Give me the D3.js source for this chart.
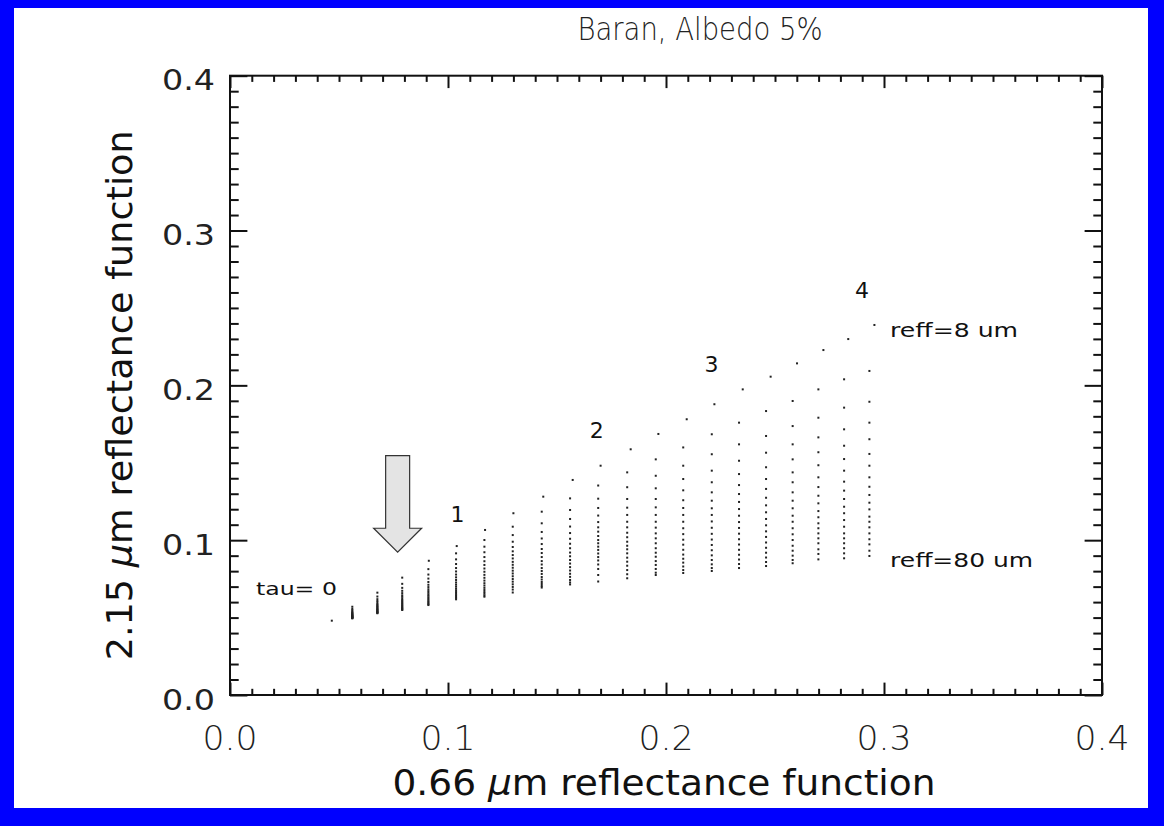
<!DOCTYPE html>
<html><head><meta charset="utf-8">
<script src="https://cdn.jsdelivr.net/npm/d3@7"></script>
<style>html,body{margin:0;padding:0;background:#0000ff;} svg{display:block}</style>
</head><body>
<svg id="c" width="1164" height="826"></svg>
<script>
// ---------- data ----------
const chartTitle = "Baran, Albedo 5%";
const xTickValues = [0.0, 0.1, 0.2, 0.3, 0.4];
const yTickValues = [0.0, 0.1, 0.2, 0.3, 0.4];
const xTickLabels = ["0.0", "0.1", "0.2", "0.3", "0.4"];
const yTickLabels = ["0.0", "0.1", "0.2", "0.3", "0.4"];
// 0.66 um reflectance of each tau column (bulk, and the reff=8 um point)
const tauX    = [0.0467,0.0561,0.0676,0.0790,0.0910,0.1037,0.1167,0.1297,0.1430,0.1560,0.1689,0.1822,0.1953,0.2079,0.2210,0.2335,0.2459,0.2581,0.2699,0.2817,0.2933];
const tauXTop = [0.0467,0.0561,0.0676,0.0790,0.0912,0.1040,0.1170,0.1300,0.1437,0.1572,0.1700,0.1838,0.1965,0.2095,0.2222,0.2352,0.2480,0.2601,0.2722,0.2836,0.2956];
// 2.15 um reflectance, reff from 8 um (first) to 80 um (last)
const col00 = [0.0480];
const col01 = [0.0570,0.0556,0.0547,0.0540,0.0534,0.0530,0.0526,0.0522,0.0519,0.0516,0.0513,0.0511,0.0508,0.0506,0.0504,0.0502,0.0500,0.0498,0.0497,0.0495];
const col02 = [0.0661,0.0636,0.0619,0.0607,0.0597,0.0588,0.0581,0.0575,0.0569,0.0565,0.0559,0.0555,0.0551,0.0547,0.0543,0.0539,0.0536,0.0533,0.0530,0.0528];
const col03 = [0.0758,0.0718,0.0692,0.0673,0.0658,0.0644,0.0634,0.0623,0.0614,0.0606,0.0599,0.0592,0.0586,0.0579,0.0574,0.0567,0.0562,0.0557,0.0552,0.0549];
const col04 = [0.0867,0.0813,0.0778,0.0752,0.0730,0.0712,0.0697,0.0683,0.0671,0.0660,0.0649,0.0641,0.0631,0.0623,0.0615,0.0606,0.0599,0.0592,0.0586,0.0581];
const col05 = [0.0962,0.0915,0.0876,0.0846,0.0820,0.0798,0.0778,0.0760,0.0743,0.0727,0.0713,0.0700,0.0687,0.0676,0.0665,0.0654,0.0645,0.0636,0.0627,0.0618];
const col06 = [0.1066,0.1001,0.0958,0.0922,0.0891,0.0864,0.0840,0.0817,0.0796,0.0776,0.0757,0.0739,0.0722,0.0707,0.0692,0.0678,0.0665,0.0654,0.0643,0.0635];
const col07 = [0.1174,0.1087,0.1033,0.0990,0.0956,0.0928,0.0904,0.0882,0.0860,0.0841,0.0822,0.0803,0.0785,0.0767,0.0749,0.0732,0.0715,0.0698,0.0681,0.0662];
const col08 = [0.1281,0.1184,0.1109,0.1053,0.1011,0.0975,0.0943,0.0917,0.0891,0.0865,0.0843,0.0820,0.0801,0.0782,0.0762,0.0746,0.0730,0.0717,0.0704,0.0694];
const col09 = [0.1389,0.1270,0.1195,0.1137,0.1088,0.1046,0.1009,0.0977,0.0948,0.0920,0.0896,0.0872,0.0849,0.0826,0.0804,0.0783,0.0763,0.0743,0.0727,0.0714];
const col10 = [0.1481,0.1353,0.1268,0.1208,0.1159,0.1117,0.1083,0.1055,0.1027,0.1001,0.0980,0.0958,0.0937,0.0914,0.0891,0.0869,0.0843,0.0814,0.0775,0.0733];
const col11 = [0.1587,0.1438,0.1342,0.1266,0.1210,0.1163,0.1119,0.1083,0.1048,0.1019,0.0990,0.0964,0.0941,0.0915,0.0887,0.0861,0.0835,0.0807,0.0780,0.0754];
const col12 = [0.1686,0.1522,0.1416,0.1335,0.1266,0.1212,0.1163,0.1119,0.1081,0.1044,0.1012,0.0980,0.0948,0.0919,0.0893,0.0865,0.0840,0.0814,0.0790,0.0775];
const col13 = [0.1781,0.1599,0.1481,0.1395,0.1322,0.1258,0.1208,0.1163,0.1119,0.1077,0.1039,0.1003,0.0971,0.0938,0.0907,0.0880,0.0855,0.0830,0.0807,0.0788];
const col14 = [0.1878,0.1684,0.1555,0.1449,0.1374,0.1309,0.1255,0.1206,0.1163,0.1121,0.1080,0.1041,0.1004,0.0969,0.0935,0.0902,0.0872,0.0844,0.0820,0.0801];
const col15 = [0.1974,0.1759,0.1619,0.1513,0.1427,0.1356,0.1298,0.1247,0.1201,0.1158,0.1117,0.1079,0.1042,0.1006,0.0972,0.0938,0.0906,0.0875,0.0846,0.0820];
const col16 = [0.2056,0.1834,0.1673,0.1565,0.1471,0.1395,0.1331,0.1274,0.1225,0.1180,0.1137,0.1096,0.1057,0.1021,0.0985,0.0951,0.0919,0.0888,0.0859,0.0833];
const col17 = [0.2142,0.1899,0.1737,0.1619,0.1522,0.1438,0.1374,0.1309,0.1255,0.1206,0.1158,0.1119,0.1077,0.1038,0.1001,0.0964,0.0932,0.0900,0.0872,0.0851];
const col18 = [0.2228,0.1974,0.1791,0.1664,0.1568,0.1484,0.1406,0.1343,0.1287,0.1238,0.1188,0.1148,0.1109,0.1077,0.1044,0.1012,0.0980,0.0941,0.0911,0.0876];
const col19 = [0.2299,0.2039,0.1856,0.1716,0.1610,0.1524,0.1449,0.1378,0.1320,0.1266,0.1216,0.1174,0.1130,0.1087,0.1044,0.1012,0.0980,0.0948,0.0915,0.0883];
const col20 = [0.2390,0.2093,0.1894,0.1759,0.1652,0.1557,0.1481,0.1406,0.1345,0.1292,0.1242,0.1199,0.1152,0.1119,0.1083,0.1044,0.1006,0.0973,0.0932,0.0898];
const columns = [col00,col01,col02,col03,col04,col05,col06,col07,col08,col09,col10,col11,col12,col13,col14,col15,col16,col17,col18,col19,col20];
const tauNumbers = ["1", "2", "3", "4"];
const tauNumberX = [0.1044, 0.1682, 0.2209, 0.2899];
const tauNumberY = [0.1119, 0.1660, 0.2088, 0.2564];
const xTitle = ["0.66 ", "\u03bc", "m reflectance function"];
const yTitle = ["2.15 ", "\u03bc", "m reflectance function"];

// ---------- layout ----------
const svg = d3.select("#c");
svg.append("rect").attr("x", 14).attr("y", 8).attr("width", 1134).attr("height", 800).attr("fill", "#fff");

const x = d3.scaleLinear().domain([0, 0.4]).range([230, 1102]);
const y = d3.scaleLinear().domain([0, 0.4]).range([695, 75.7]);
const ink = "#111";
const font = "DejaVu Sans, Liberation Sans, sans-serif";

const minorX = d3.range(0, 41).map(i => i / 100).filter(v => Math.round(v * 1000) % 100 !== 0);
const minorY = minorX;

function styleAxis(g) {
  g.select(".domain").remove();
  g.selectAll("line").attr("stroke", ink).attr("stroke-width", 2);
  g.selectAll("text").remove();
}
svg.append("g").attr("transform", `translate(0,${y(0)})`).call(d3.axisBottom(x).tickValues(xTickValues).tickSize(-12.4).tickSizeOuter(0)).call(styleAxis);
svg.append("g").attr("transform", `translate(0,${y(0)})`).call(d3.axisBottom(x).tickValues(minorX).tickSize(-6.2).tickSizeOuter(0)).call(styleAxis);
svg.append("g").attr("transform", `translate(0,${y(0.4)})`).call(d3.axisTop(x).tickValues(xTickValues).tickSize(-12.4).tickSizeOuter(0)).call(styleAxis);
svg.append("g").attr("transform", `translate(0,${y(0.4)})`).call(d3.axisTop(x).tickValues(minorX).tickSize(-6.2).tickSizeOuter(0)).call(styleAxis);
svg.append("g").attr("transform", `translate(${x(0)},0)`).call(d3.axisLeft(y).tickValues(yTickValues).tickSize(-17.4).tickSizeOuter(0)).call(styleAxis);
svg.append("g").attr("transform", `translate(${x(0)},0)`).call(d3.axisLeft(y).tickValues(minorY).tickSize(-8.7).tickSizeOuter(0)).call(styleAxis);
svg.append("g").attr("transform", `translate(${x(0.4)},0)`).call(d3.axisRight(y).tickValues(yTickValues).tickSize(-17.4).tickSizeOuter(0)).call(styleAxis);
svg.append("g").attr("transform", `translate(${x(0.4)},0)`).call(d3.axisRight(y).tickValues(minorY).tickSize(-8.7).tickSizeOuter(0)).call(styleAxis);

svg.append("rect").attr("x", x(0)).attr("y", y(0.4)).attr("width", x(0.4) - x(0)).attr("height", y(0) - y(0.4))
  .attr("fill", "none").attr("stroke", ink).attr("stroke-width", 2);

// tick labels
svg.append("g").selectAll("text").data(xTickValues).join("text")
  .attr("x", d => x(d)).attr("y", y(0) + 55).attr("text-anchor", "middle")
  .attr("font-family", font).attr("font-size", 33).attr("font-weight", 200).attr("fill", "#222")
  .attr("textLength", 55).attr("lengthAdjust", "spacingAndGlyphs")
  .text((d, i) => xTickLabels[i]);
svg.append("g").selectAll("text").data(yTickValues).join("text")
  .attr("x", 215).attr("y", d => y(d) + 14.5).attr("text-anchor", "end")
  .attr("font-family", font).attr("font-size", 29).attr("fill", "#222")
  .attr("textLength", 53).attr("lengthAdjust", "spacingAndGlyphs")
  .text((d, i) => yTickLabels[i]);

// titles
function richText(sel, parts) {
  parts.forEach((p, i) => sel.append("tspan").attr("font-style", i === 1 ? "italic" : "normal").text(p));
}
const xt = svg.append("text").attr("x", (x(0) + x(0.4)) / 2 - 2).attr("y", 795).attr("text-anchor", "middle")
  .attr("font-family", font).attr("font-size", 36).attr("fill", "#111")
  .attr("textLength", 543).attr("lengthAdjust", "spacingAndGlyphs");
richText(xt, xTitle);
const yt = svg.append("text").attr("transform", `translate(132,${(y(0) + y(0.4)) / 2 + 10}) rotate(-90)`).attr("text-anchor", "middle")
  .attr("font-family", font).attr("font-size", 36).attr("fill", "#111")
  .attr("textLength", 530).attr("lengthAdjust", "spacingAndGlyphs");
richText(yt, yTitle);
svg.append("text").attr("x", 700).attr("y", 40).attr("text-anchor", "middle")
  .attr("font-family", font).attr("font-size", 32).attr("font-weight", 200).attr("fill", "#222")
  .attr("textLength", 245).attr("lengthAdjust", "spacingAndGlyphs")
  .text(chartTitle);

// ---------- dots ----------
const pts = [];
columns.forEach((col, ci) => col.forEach((v, ri) => pts.push({ x: ri === 0 ? tauXTop[ci] : tauX[ci], y: v })));
svg.append("g").selectAll("rect").data(pts).join("rect")
  .attr("x", d => x(d.x) - 1).attr("y", d => y(d.y) - 1).attr("width", 2).attr("height", 2).attr("fill", "#222");

// ---------- annotations ----------
const ann = svg.append("g").attr("font-family", font).attr("fill", "#111");
ann.append("text").attr("x", x(0.0119)).attr("y", y(0.0646)).attr("font-size", 18).attr("textLength", 81).attr("lengthAdjust", "spacingAndGlyphs").text("tau= 0");
ann.selectAll(".tn").data(tauNumbers).join("text").attr("class", "tn")
  .attr("x", (d, i) => x(tauNumberX[i])).attr("y", (d, i) => y(tauNumberY[i])).attr("text-anchor", "middle")
  .attr("font-size", 22).text(d => d);
ann.append("text").attr("x", x(0.3028)).attr("y", y(0.2314)).attr("font-size", 20).attr("textLength", 128).attr("lengthAdjust", "spacingAndGlyphs").text("reff=8 um");
ann.append("text").attr("x", x(0.3028)).attr("y", y(0.0829)).attr("font-size", 20).attr("textLength", 143).attr("lengthAdjust", "spacingAndGlyphs").text("reff=80 um");

// arrow pointing at the tau columns
const tipX = x(0.0769), tipY = y(0.0922), headY = y(0.1077), topY = y(0.1546);
const arrowPts = [[tipX - 12, topY], [tipX + 12, topY], [tipX + 12, headY], [tipX + 24, headY], [tipX, tipY], [tipX - 24, headY], [tipX - 12, headY]];
svg.append("path").attr("d", d3.line()(arrowPts) + "Z").attr("fill", "#e4e4e4").attr("stroke", "#333").attr("stroke-width", 1.2);
</script>
</body></html>
